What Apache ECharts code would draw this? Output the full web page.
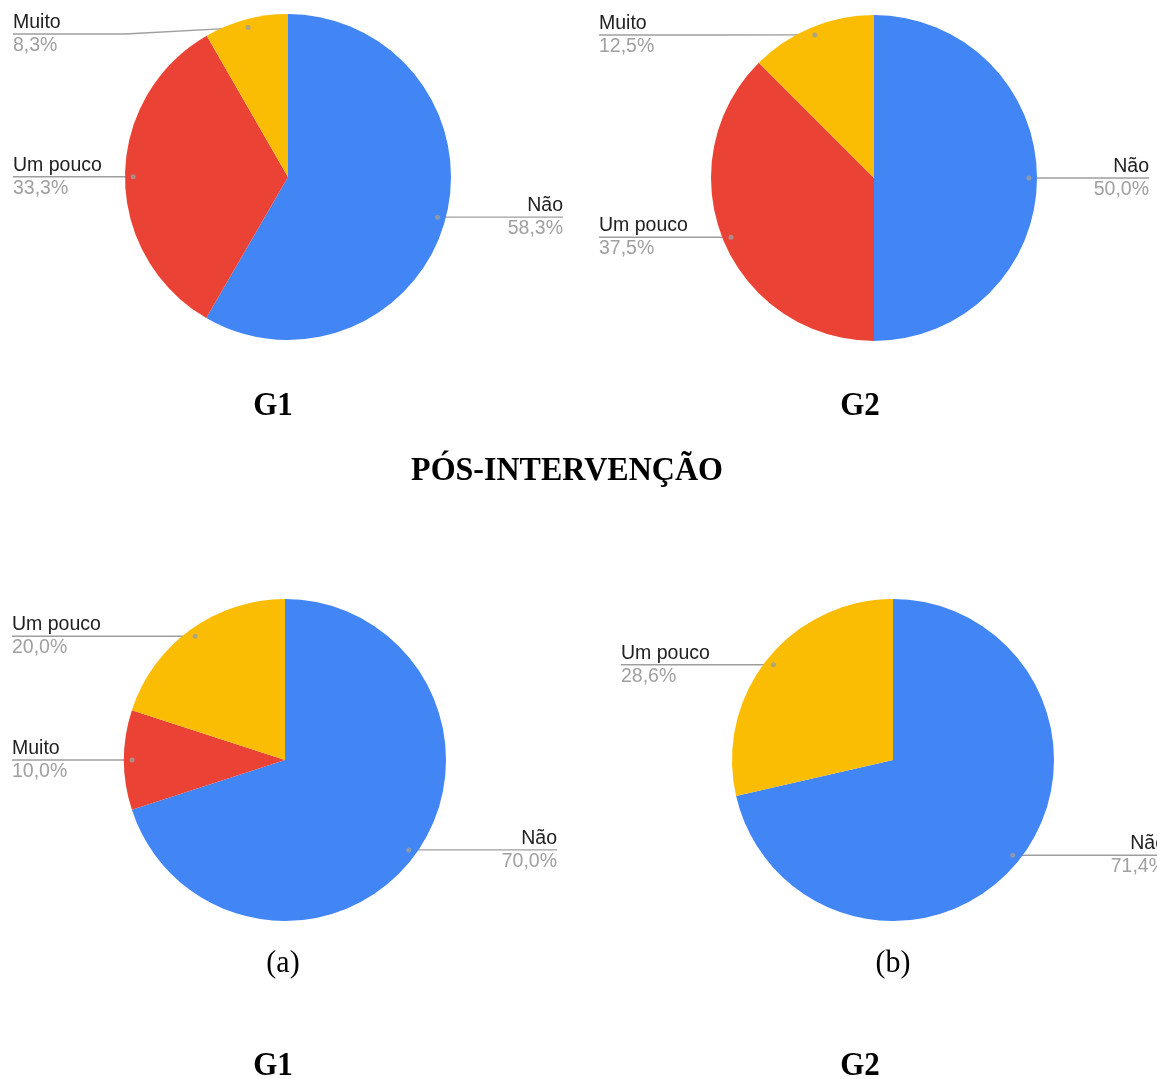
<!DOCTYPE html>
<html>
<head>
<meta charset="utf-8">
<title>Pós-intervenção</title>
<script src="https://cdn.jsdelivr.net/npm/echarts@6/dist/echarts.min.js"></script>
<style>
  html, body { margin: 0; padding: 0; background: #ffffff; }
  #chart { width: 1157px; height: 1079px; }
</style>
</head>
<body>
<div id="chart"></div>
<script>
// Answer categories and percentages for each pie (slices listed clockwise from 12 o'clock)
const g1PreNames = ['Não', 'Um pouco', 'Muito'];
const g1PreValues = [58.3, 33.3, 8.3];

const g2PreNames = ['Não', 'Um pouco', 'Muito'];
const g2PreValues = [50.0, 37.5, 12.5];

const g1PosNames = ['Não', 'Muito', 'Um pouco'];
const g1PosValues = [70.0, 10.0, 20.0];

const g2PosNames = ['Não', 'Um pouco'];
const g2PosValues = [71.4, 28.6];

// Caption texts
const groupLabels = ['G1', 'G2'];
const sectionTitle = 'PÓS-INTERVENÇÃO';
const panelLetters = ['(a)', '(b)'];

// Layout of each pie: centre, radius and the x where its labels end
const panels = [
  { names: g1PreNames, values: g1PreValues, center: [288, 177], r: 163, leftX: 13,  rightX: 563,
    colors: ['#4285F4', '#EA4335', '#FBBC04'] },
  { names: g2PreNames, values: g2PreValues, center: [874, 178], r: 163, leftX: 599, rightX: 1149,
    colors: ['#4285F4', '#EA4335', '#FBBC04'] },
  { names: g1PosNames, values: g1PosValues, center: [285, 760], r: 161, leftX: 12,  rightX: 557,
    colors: ['#4285F4', '#EA4335', '#FBBC04'] },
  { names: g2PosNames, values: g2PosValues, center: [893, 760], r: 161, leftX: 621, rightX: 1166,
    colors: ['#4285F4', '#FBBC04'] }
];

const DOT_RATIO = 0.95;
const LINE_GRAY = '#9e9e9e';
const LABEL_FONT = '"Liberation Sans", Arial, sans-serif';

// Mid angle of a slice as a fraction of the full turn
function midFraction(values, i) {
  const total = values.reduce((a, b) => a + b, 0);
  let before = 0;
  for (let k = 0; k < i; k++) before += values[k];
  return (before + values[i] / 2) / total;
}

function fmtPct(v) {
  return v.toFixed(1).replace('.', ',') + '%';
}

const chart = echarts.init(document.getElementById('chart'), null, { renderer: 'canvas' });

const series = [];
const polar = [];
const angleAxis = [];
const radiusAxis = [];

panels.forEach((p, pi) => {
  series.push({
    type: 'pie',
    center: p.center,
    radius: p.r,
    startAngle: 90,
    clockwise: true,
    silent: true,
    animation: false,
    data: p.names.map((n, i) => ({
      name: n,
      value: p.values[i],
      itemStyle: { color: p.colors[i] }
    })),
    label: {
      show: true,
      position: 'outside',
      formatter: (params) => '{n|' + params.name + '}\n{v|' + fmtPct(params.value) + '}',
      rich: {
        n: { fontFamily: LABEL_FONT, fontSize: 19.5, color: '#212121', lineHeight: 23 },
        v: { fontFamily: LABEL_FONT, fontSize: 19.5, color: '#a0a0a0', lineHeight: 23 }
      }
    },
    labelLine: {
      show: true,
      length: 10,
      length2: 10,
      lineStyle: { color: LINE_GRAY, width: 1.3 }
    },
    labelLayout: (params) => {
      const t = midFraction(p.values, params.dataIndex) * Math.PI * 2;
      const dx = p.center[0] + DOT_RATIO * p.r * Math.sin(t);
      const dy = p.center[1] - DOT_RATIO * p.r * Math.cos(t);
      const isLeft = dx < p.center[0];
      const minY = p.center[1] - 143;
      const ly = Math.max(dy, minY);
      const edgeX = isLeft ? p.leftX : p.rightX;
      const bendX = ly === dy ? dx : (isLeft ? p.center[0] - p.r : p.center[0] + p.r);
      return {
        x: edgeX,
        y: ly,
        align: isLeft ? 'left' : 'right',
        verticalAlign: 'middle',
        hideOverlap: false,
        moveOverlap: null,
        labelLinePoints: [[dx, dy], [bendX, ly], [edgeX, ly]]
      };
    }
  });

  // Polar system matching the pie, used to place the small anchor dots
  polar.push({ center: p.center, radius: p.r });
  angleAxis.push({ polarIndex: pi, type: 'value', min: 0, max: 1, startAngle: 90, clockwise: true, show: false });
  radiusAxis.push({ polarIndex: pi, type: 'value', min: 0, max: 1, show: false });
});

panels.forEach((p, pi) => {
  series.push({
    type: 'scatter',
    coordinateSystem: 'polar',
    polarIndex: pi,
    silent: true,
    animation: false,
    symbolSize: 5,
    itemStyle: { color: LINE_GRAY },
    z: 5,
    data: p.values.map((v, i) => [DOT_RATIO, midFraction(p.values, i)])
  });
});

const serifBold = { fontFamily: '"Liberation Serif", "Times New Roman", serif', fontWeight: 'bold', fontSize: 31, fill: '#000' };
const serifReg = { fontFamily: '"Liberation Serif", "Times New Roman", serif', fontWeight: 'normal', fontSize: 30, fill: '#000' };

function caption(text, x, y, base, extra) {
  return {
    type: 'text',
    x: x,
    y: y,
    scaleY: 1.08,
    silent: true,
    style: Object.assign({ text: text, textAlign: 'center', textVerticalAlign: 'middle' }, base, extra || {})
  };
}

chart.setOption({
  backgroundColor: '#ffffff',
  animation: false,
  polar: polar,
  angleAxis: angleAxis,
  radiusAxis: radiusAxis,
  series: series,
  graphic: [
    caption(groupLabels[0], 273, 406, serifBold),
    caption(groupLabels[1], 860, 406, serifBold),
    caption(sectionTitle, 567, 471, serifBold, { fontSize: 32 }),
    caption(panelLetters[0], 283, 963, serifReg),
    caption(panelLetters[1], 893, 963, serifReg),
    caption(groupLabels[0], 273, 1066, serifBold),
    caption(groupLabels[1], 860, 1066, serifBold)
  ]
});
</script>
</body>
</html>
